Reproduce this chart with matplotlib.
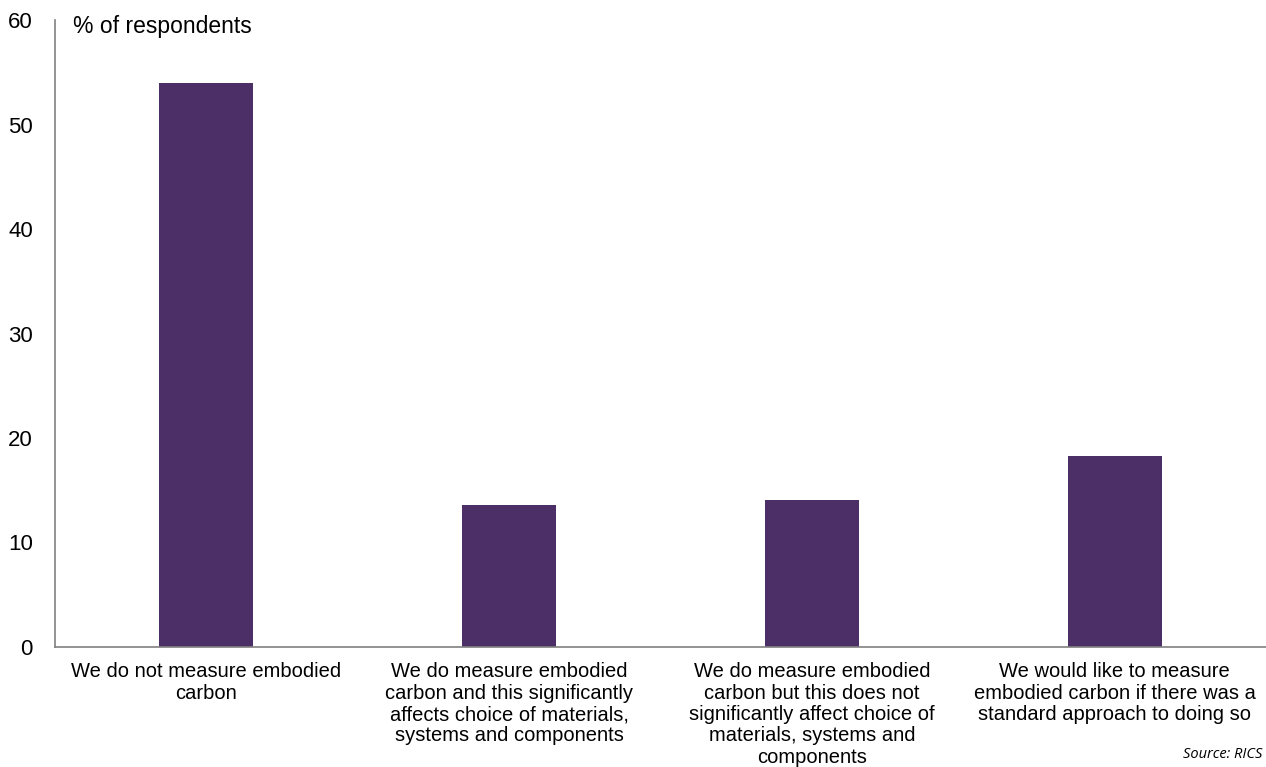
import matplotlib
matplotlib.use("Agg")
import matplotlib.pyplot as plt

# survey answers (% of respondents)
categories = [
    "We do not measure embodied\ncarbon",
    "We do measure embodied\ncarbon and this significantly\naffects choice of materials,\nsystems and components",
    "We do measure embodied\ncarbon but this does not\nsignificantly affect choice of\nmaterials, systems and\ncomponents",
    "We would like to measure\nembodied carbon if there was a\nstandard approach to doing so",
]
values = [54.0, 13.6, 14.1, 18.3]
yticks = [0, 10, 20, 30, 40, 50, 60]

plt.rcParams['font.family'] = ['Liberation Sans', 'DejaVu Sans']

fig = plt.figure(figsize=(12.66, 7.67), dpi=100)
ax = fig.add_axes([55/1266, 1 - 647/767, 1 - 55/1266, (647 - 20)/767])

x = range(len(categories))
ax.bar(x, values, width=0.31, color='#4d2f68')

ax.set_xlim(-0.5, len(categories) - 0.5)
ax.set_ylim(0, 60)
ax.set_yticks(yticks)
ax.set_yticklabels([str(t) for t in yticks], fontsize=16)
ax.set_xticks(list(x))
ax.set_xticklabels(categories, fontsize=14.5, linespacing=1.16)
ax.tick_params(axis='y', length=0, pad=16)
ax.tick_params(axis='x', length=0, pad=11)

for s in ['top', 'right']:
    ax.spines[s].set_visible(False)
ax.spines['left'].set_color('#808080')
ax.spines['bottom'].set_color('#808080')
ax.spines['left'].set_linewidth(1.2)
ax.spines['bottom'].set_linewidth(1.2)

fig.text(73/1266, 1 - 27/767, '% of respondents', fontsize=16.5, va='center', ha='left')
fig.text(1262/1266, 1 - 755/767, 'Source: RICS', fontsize=10.5, style='italic',
         ha='right', va='center', family=['Open Sans', 'DejaVu Sans'])

fig.savefig('out.png', dpi=100)
